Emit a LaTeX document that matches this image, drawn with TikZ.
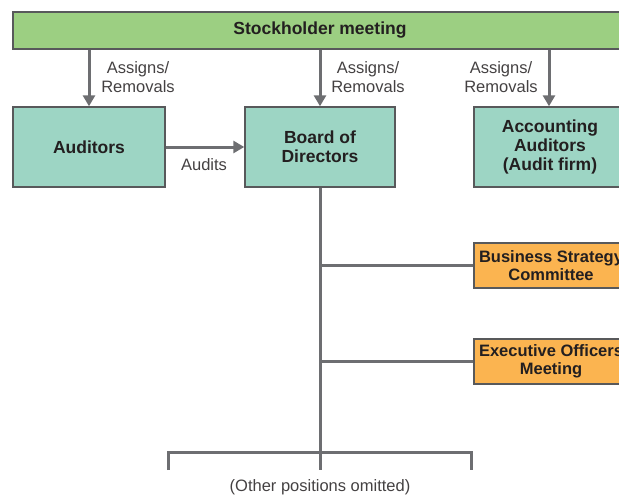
\documentclass[tikz,border=0pt]{standalone}
\usepackage{fontspec}
\setmainfont{Liberation Sans}
\usetikzlibrary{arrows.meta}
\definecolor{gr}{HTML}{9CCF82}
\definecolor{tl}{HTML}{9DD5C4}
\definecolor{orng}{HTML}{FBB450}
\definecolor{ln}{HTML}{6D6E71}
\definecolor{bd}{HTML}{58595B}
\definecolor{tx}{HTML}{231F20}
\begin{document}
\begin{tikzpicture}[x=1pt,y=-1pt,
  box/.style={draw=bd,line width=1.4pt,font=\fontsize{17.5}{19}\selectfont\bfseries,text=tx,align=center,inner sep=0pt},
  lbl/.style={font=\fontsize{16.5}{18.5}\selectfont,text=tx!85,align=center,inner sep=0pt},
  arr/.style={draw=ln,line width=3pt,-{Triangle[width=12pt,length=11pt]}},
  con/.style={draw=ln,line width=3pt}]
\useasboundingbox (0,0) rectangle (619,495);
\begin{scope}
\clip (0,0) rectangle (619,495);
\node[box,fill=gr,minimum width=614pt,minimum height=37pt] (stock) at (320,30.5) {Stockholder meeting};
\node[box,fill=tl,minimum width=152pt,minimum height=80pt] (aud) at (89,147) {Auditors};
\node[box,fill=tl,minimum width=150pt,minimum height=80pt] (board) at (320,147) {Board of\\Directors};
\node[box,fill=tl,minimum width=152pt,minimum height=80pt] (acct) at (550,147) {Accounting\\Auditors\\(Audit firm)};
\node[box,fill=orng,minimum width=154pt,minimum height=45pt,font=\fontsize{16.5}{18.5}\selectfont\bfseries] (bsc) at (551,265.5) {Business Strategy\\Committee};
\node[box,fill=orng,minimum width=154pt,minimum height=45pt,font=\fontsize{16.5}{18.5}\selectfont\bfseries] (exec) at (551,361.5) {Executive Officers\\Meeting};
\end{scope}
\draw[arr] (stock.south -| aud) -- (aud.north);
\draw[arr] (stock.south -| board) -- (board.north);
\draw[arr] (stock.south -| 549,0) -- (acct.north -| 549,0);
\node[lbl] (l1) at (138,77) {Assigns/\\Removals};
\node[lbl] (l2) at (368,77) {Assigns/\\Removals};
\node[lbl] (l3) at (501,77) {Assigns/\\Removals};
\draw[arr] (aud.east) -- (board.west);
\node[lbl] (l4) at (204,165) {Audits};
\coordinate (bot) at (320,452);
\coordinate (bl) at (168,452);
\coordinate (br) at (471,452);
\draw[con] ([yshift=-18pt]bl) -- (bl) -- (br) -- ([yshift=-18pt]br);
\draw[con] (board.south) -- ([yshift=-18pt]bot);
\draw[con] (board.south |- bsc.west) -- (bsc.west);
\draw[con] (board.south |- exec.west) -- (exec.west);
\node[lbl] (oth) at (320,487) {(Other positions omitted)};
\end{tikzpicture}
\end{document}
